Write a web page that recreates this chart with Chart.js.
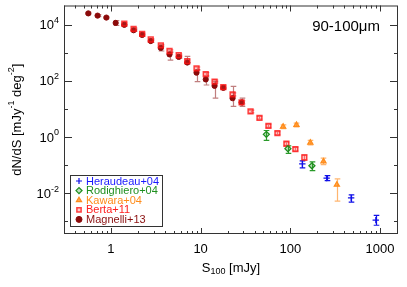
<!DOCTYPE html>
<html>
<head>
<meta charset="utf-8">
<script src="https://cdn.jsdelivr.net/npm/chart.js@4.4.0/dist/chart.umd.min.js"></script>
<style>
  html, body { margin: 0; padding: 0; background: #fff; }
  canvas { display: block; }
</style>
</head>
<body>
<canvas id="grafico" width="407" height="287"></canvas>
<script>
// tick labels
var xTickVals = [1, 10, 100, 1000];
var yTickVals = [1e4, 1e2, 1, 1e-2];
var yTickExp = ['4', '2', '0', '-2'];

// Heraudeau+04
var herX = [136, 254, 476, 896];
var herY = [0.111, 0.0343, 0.0068, 0.0011];
var herLo = [0.079, 0.028, 0.0048, 0.00072];
var herHi = [0.141, 0.042, 0.0087, 0.00162];

// Rodighiero+04
var rodX = [54, 94, 174];
var rodY = [1.24, 0.385, 0.094];
var rodLo = [0.76, 0.26, 0.063];
var rodHi = [1.70, 0.48, 0.13];

// Kawara+04
var kawX = [83, 117, 167, 234, 330];
var kawY = [2.34, 2.69, 0.63, 0.135, 0.020];
var kawLo = [2.0, 2.3, 0.52, 0.103, 0.0052];
var kawHi = [2.7, 3.1, 0.76, 0.178, 0.0324];

// Berta+11
var berX = [1.41, 1.79, 2.23, 2.78, 3.6, 4.5, 5.7, 7.1, 9.0, 11.4, 14.3, 17.9, 22.7, 28.6, 36, 45.3, 57, 71.8, 90.4, 113.8, 143.2];
var berY = [10800, 7000, 4680, 2950, 1820, 1150, 810, 500, 275, 174, 93, 60, 33, 17, 8.1, 4.8, 2.5, 1.38, 0.575, 0.37, 0.186];
var berLo = [9900, 6400, 4300, 2700, 1650, 1040, 730, 450, 245, 155, 82, 53, 29, 15, 7.2, 4.3, 2.2, 1.22, 0.50, 0.32, 0.15];
var berHi = [11800, 7600, 5100, 3200, 2000, 1270, 890, 560, 310, 195, 105, 68, 37, 19.5, 9.1, 5.4, 2.8, 1.56, 0.66, 0.43, 0.23];

// Magnelli+13
var magX = [0.56, 0.71, 0.89, 1.13, 1.41, 1.79, 2.23, 2.78, 3.6, 4.5, 5.7, 7.1, 9.0, 11.4, 14.3, 17.9, 22.7, 28.6];
var magY = [25100, 20900, 17800, 11500, 9800, 6300, 4300, 2600, 1480, 870, 710, 447, 195, 112, 66, 56, 24, 17];
var magLo = [23000, 19200, 16300, 9300, 9000, 5700, 3900, 2350, 1150, 540, 640, 400, 93, 71, 24, 50, 12.3, 12.3];
var magHi = [27400, 22800, 19400, 14000, 10700, 6900, 4700, 2900, 1860, 1050, 790, 740, 245, 138, 93, 62, 63, 24];

function pontos(xs, ys, lo, hi) {
	var out = [];
	for (var i = 0; i < xs.length; i++) {
		out.push({ x: xs[i], y: ys[i], lo: lo[i], hi: hi[i] });
	}
	return out;
}

var series = [
	{ label: 'Heraudeau+04', data: pontos(herX, herY, herLo, herHi), cor: '#1010e8', err: '#1010e8',
		style: 'cross', radius: 3.2, fill: 'rgba(0,0,0,0)', bw: 1.2, order: 1 },
	{ label: 'Rodighiero+04', data: pontos(rodX, rodY, rodLo, rodHi), cor: '#1f8f1f', err: '#2a9a2a',
		style: 'rectRot', radius: 3, fill: 'rgba(40,150,40,0.3)', bw: 1.3, order: 2 },
	{ label: 'Kawara+04', data: pontos(kawX, kawY, kawLo, kawHi), cor: '#ff8c1a', err: 'rgba(255,150,50,0.7)',
		style: 'triangle', radius: 3, fill: 'rgba(255,140,26,0.75)', bw: 1.2, order: 3 },
	{ label: 'Berta+11', data: pontos(berX, berY, berLo, berHi), cor: 'rgba(255,20,20,0.8)', err: 'rgba(230,40,40,0.6)',
		style: 'rect', radius: 3.4, fill: 'rgba(255,60,60,0.25)', bw: 1.5, order: 4 },
	{ label: 'Magnelli+13', data: pontos(magX, magY, magLo, magHi), cor: '#8b0a0a', err: 'rgba(150,40,40,0.6)',
		style: 'circle', radius: 2.6, fill: '#8b0a0a', bw: 1, order: 5 }
];

var legendColors = ['#1a1aff', '#1f8f1f', '#ff8c1a', '#ff2020', '#8b1010'];

function drawRich(ctx, parts, x, y, align) {
	var total = 0;
	parts.forEach(function (p) {
		ctx.font = p.size + 'px "Liberation Sans", Arial, sans-serif';
		p.w = ctx.measureText(p.t).width;
		total += p.w;
	});
	var cx = align === 'right' ? x - total : align === 'center' ? x - total / 2 : x;
	parts.forEach(function (p) {
		ctx.font = p.size + 'px "Liberation Sans", Arial, sans-serif';
		ctx.fillText(p.t, cx, y + (p.dy || 0));
		cx += p.w;
	});
}

var errorBars = {
	id: 'errorBars',
	beforeDatasetsDraw(chart) {
		var ctx = chart.ctx, xs = chart.scales.x, ys = chart.scales.y;
		ctx.save();
		chart.data.datasets.forEach(function (ds) {
			ctx.strokeStyle = ds.errColor;
			ctx.lineWidth = 1.2;
			ctx.beginPath();
			ds.data.forEach(function (d) {
				var px = Math.round(xs.getPixelForValue(d.x)) + 0.5;
				var p1 = ys.getPixelForValue(d.lo), p2 = ys.getPixelForValue(d.hi);
				ctx.moveTo(px, p1); ctx.lineTo(px, p2);
				ctx.moveTo(px - 2.8, p1); ctx.lineTo(px + 2.8, p1);
				ctx.moveTo(px - 2.8, p2); ctx.lineTo(px + 2.8, p2);
			});
			ctx.stroke();
		});
		ctx.restore();
	}
};

var moldura = {
	id: 'moldura',
	afterDatasetsDraw(chart) {
		var ctx = chart.ctx, a = chart.chartArea, xs = chart.scales.x, ys = chart.scales.y;
		ctx.save();
		ctx.strokeStyle = '#333';
		ctx.lineWidth = 1;
		ctx.strokeRect(a.left + 0.5, a.top + 0.5, a.right - a.left - 1, a.bottom - a.top - 1);
		ctx.beginPath();
		for (var e = -1; e <= 3; e++) {
			for (var m = 1; m <= 9; m++) {
				var v = m * Math.pow(10, e);
				if (v < xs.min || v > xs.max) continue;
				var px = Math.round(xs.getPixelForValue(v)) + 0.5, len = m === 1 ? 6 : 3;
				ctx.moveTo(px, a.bottom); ctx.lineTo(px, a.bottom - len);
				ctx.moveTo(px, a.top); ctx.lineTo(px, a.top + len);
			}
		}
		for (var k = -3; k <= 4; k++) {
			var py = Math.round(ys.getPixelForValue(Math.pow(10, k))) + 0.5, l = k % 2 === 0 ? 8 : 4;
			ctx.moveTo(a.left, py); ctx.lineTo(a.left + l, py);
			ctx.moveTo(a.right, py); ctx.lineTo(a.right - l, py);
		}
		ctx.stroke();

		// y tick labels
		ctx.fillStyle = '#000';
		ctx.textBaseline = 'middle';
		for (var i = 0; i < yTickVals.length; i++) {
			var y = ys.getPixelForValue(yTickVals[i]);
			drawRich(ctx, [{ t: '10', size: 13 }, { t: yTickExp[i], size: 9, dy: -5 }], a.left - 5, y + 1, 'right');
		}

		// axis titles
		ctx.save();
		ctx.translate(17, (a.top + a.bottom) / 2);
		ctx.rotate(-Math.PI / 2);
		drawRich(ctx, [{ t: 'dN/dS [mJy', size: 13 }, { t: '-1', size: 9, dy: -5 }, { t: ' deg', size: 13 },
			{ t: '-2', size: 9, dy: -5 }, { t: ']', size: 13 }], 0, 0, 'center');
		ctx.restore();
		drawRich(ctx, [{ t: 'S', size: 13 }, { t: '100', size: 9, dy: 4 }, { t: ' [mJy]', size: 13 }],
			(a.left + a.right) / 2, 268, 'center');

		// annotation
		drawRich(ctx, [{ t: '90-100\u03bcm', size: 15 }], a.right - 18, 27, 'right');

		// legend box
		var bx = 70, by = 175, bw = 92, bh = 51;
		ctx.fillStyle = '#fff';
		ctx.fillRect(bx, by, bw, bh);
		ctx.strokeStyle = '#333';
		ctx.strokeRect(bx + 0.5, by + 0.5, bw, bh);
		chart.data.datasets.forEach(function (ds, j) {
			var ly = 181 + j * 9.6;
			ctx.fillStyle = ds.pointBackgroundColor;
			ctx.strokeStyle = ds.pointBorderColor;
			ctx.lineWidth = ds.pointBorderWidth;
			Chart.helpers.drawPoint(ctx, { pointStyle: ds.pointStyle, radius: 3, rotation: 0,
				borderWidth: ds.pointBorderWidth }, 79, ly);
			ctx.fillStyle = legendColors[j];
			drawRich(ctx, [{ t: ds.label, size: 11 }], 86, ly + 0.5, 'left');
		});
		ctx.restore();
	}
};

new Chart(document.getElementById('grafico'), {
	type: 'scatter',
	data: {
		datasets: series.map(function (s) {
			return {
				label: s.label,
				data: s.data,
				pointStyle: s.style,
				pointRadius: s.radius,
				pointBackgroundColor: s.fill,
				pointBorderColor: s.cor,
				pointBorderWidth: s.bw,
				errColor: s.err,
				order: s.order
			};
		})
	},
	options: {
		responsive: false,
		animation: false,
		layout: { padding: { top: 3, right: 9, left: 0, bottom: 0 } },
		plugins: { legend: { display: false }, tooltip: { enabled: false } },
		scales: {
			x: {
				type: 'logarithmic',
				min: 0.308,
				max: 1585,
				grid: { display: false, drawTicks: false },
				border: { display: false },
				afterBuildTicks: function (s) { s.ticks = xTickVals.map(function (v) { return { value: v }; }); },
				afterFit: function (s) { s.height = 53; },
				ticks: {
					padding: 8,
					maxRotation: 0,
					autoSkip: false,
					color: '#000',
					font: { family: '"Liberation Sans", Arial, sans-serif', size: 13 },
					callback: function (v) { return String(v); }
				}
			},
			y: {
				type: 'logarithmic',
				min: 3.52e-4,
				max: 4.79e4,
				grid: { display: false, drawTicks: false },
				border: { display: false },
				ticks: { display: false },
				afterFit: function (s) { s.width = 64; }
			}
		}
	},
	plugins: [errorBars, moldura]
});
</script>
</body>
</html>
